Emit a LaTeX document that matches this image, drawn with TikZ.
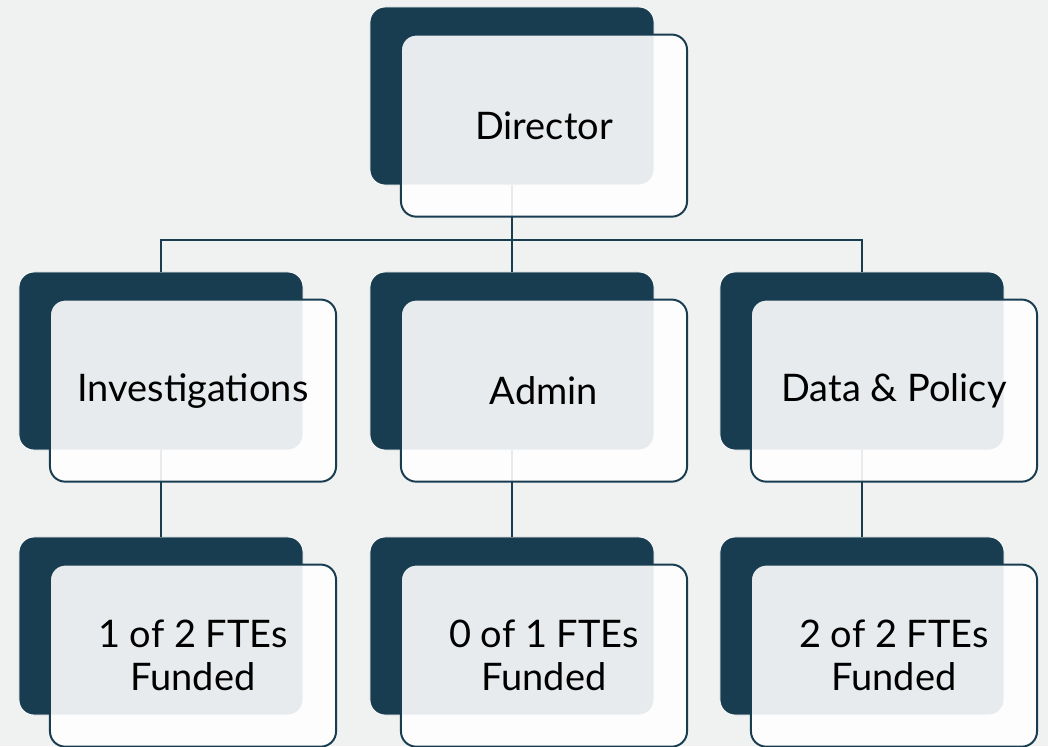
\documentclass[tikz,border=0pt]{standalone}
\usepackage{fontspec}
\setmainfont{Lato}
\usetikzlibrary{positioning}

\definecolor{navy}{HTML}{183C50}
\definecolor{paper}{HTML}{F0F1F1}

\tikzset{
  back/.style={fill=navy, draw=white, line width=0.6pt, rounded corners=0.38cm,
    minimum width=7.1cm, minimum height=4.45cm, inner sep=0pt},
  front/.style={fill=white, fill opacity=0.9, text opacity=1, draw=navy, line width=1.4pt,
    rounded corners=0.38cm, minimum width=7.15cm, minimum height=4.55cm, inner sep=0pt,
    align=center, font=\fontsize{27}{30.5}\selectfont, xshift=0.8cm, yshift=-0.74cm},
  link/.style={draw=navy, line width=1.4pt},
}

\begin{document}
\begin{tikzpicture}[x=0.025cm,y=-0.025cm]
\fill[paper] (0,0) rectangle (1048,746);
\clip (0,0) rectangle (1048,746);

% dark cards behind
\node[back] (dirback) at (512,96) {};
\node[back] (invback) at (161,361) {};
\node[back] (admback) at (512,361) {};
\node[back] (dpback) at (862,361) {};
\node[back] (invfback) at (161,626) {};
\node[back] (admfback) at (512,626) {};
\node[back] (dpfback) at (862,626) {};

% org lines
\coordinate (bus) at (512,240);
\draw[link] (dirback.south) -- (bus);
\draw[link] (invback.north) |- (bus) -| (dpback.north);
\draw[link] (admback.north) -- (bus);
\draw[link] (invback.south) -- (invfback.north);
\draw[link] (admback.south) -- (admfback.north);
\draw[link] (dpback.south) -- (dpfback.north);

% light cards with text
\node[front] (dir) at (dirback) {Director};
\node[front] (inv) at (invback) {Investigations};
\node[front] (adm) at (admback) {Admin};
\node[front] (dp) at (dpback) {Data \& Policy};
\node[front] (invf) at (invfback) {1 of 2 FTEs\\Funded};
\node[front] (admf) at (admfback) {0 of 1 FTEs\\Funded};
\node[front] (dpf) at (dpfback) {2 of 2 FTEs\\Funded};
\end{tikzpicture}
\end{document}
